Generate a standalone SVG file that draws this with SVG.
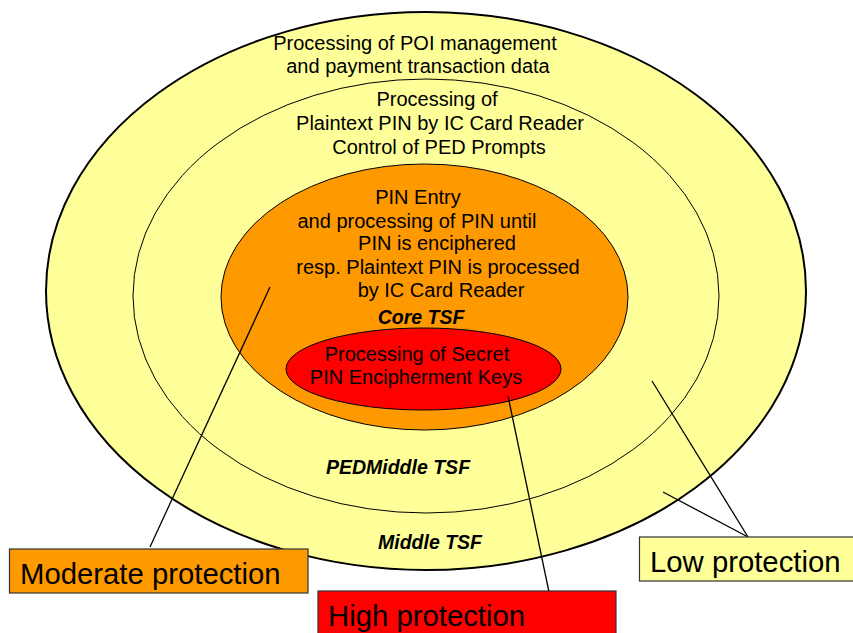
<svg xmlns="http://www.w3.org/2000/svg" width="853" height="633" viewBox="0 0 853 633">
  <style>
    text { font-family: "Liberation Sans", Arial, sans-serif; fill: #000; }
    .t { font-size: 20px; text-anchor: middle; }
    .tsf { font-size: 19.5px; font-weight: bold; font-style: italic; text-anchor: middle; }
    .lbl { font-size: 29.3px; }
    .lead { stroke: #000; stroke-width: 1.3; fill: none; }
    .box { stroke: #333; stroke-width: 1.2; }
  </style>
  <rect width="853" height="633" fill="#fff"/>

  <!-- Outer zone: Middle TSF -->
  <g id="middle-tsf">
    <ellipse cx="426" cy="291" rx="380" ry="279" fill="#FFFF99" stroke="#000" stroke-width="2"/>
    <text class="t" x="415" y="50">Processing of POI management</text>
    <text class="t" x="418" y="73">and payment transaction data</text>
    <text class="tsf" x="430" y="549">Middle TSF</text>
  </g>

  <!-- PED middle zone -->
  <g id="ped-middle-tsf">
    <ellipse cx="426" cy="296" rx="293" ry="217" fill="#FFFF99" stroke="#000" stroke-width="1"/>
    <text class="t" x="437" y="106">Processing of</text>
    <text class="t" x="440" y="130">Plaintext PIN by IC Card Reader</text>
    <text class="t" x="439" y="154">Control of PED Prompts</text>
    <text class="tsf" x="398" y="474">PEDMiddle TSF</text>
  </g>

  <!-- Core zone -->
  <g id="core-tsf">
    <ellipse cx="424.5" cy="297" rx="203.5" ry="133" fill="#FF9900" stroke="#000" stroke-width="1"/>
    <text class="t" x="418" y="204">PIN Entry</text>
    <text class="t" x="417" y="228">and processing of PIN until</text>
    <text class="t" x="437" y="250">PIN is enciphered</text>
    <text class="t" x="438" y="274">resp. Plaintext PIN is processed</text>
    <text class="t" x="441" y="297">by IC Card Reader</text>
    <text class="tsf" x="421" y="324">Core TSF</text>
  </g>

  <!-- Key processing zone -->
  <g id="secret-keys">
    <ellipse cx="423.5" cy="369" rx="137.5" ry="41" fill="#FF0000" stroke="#000" stroke-width="1"/>
    <text class="t" x="417" y="361">Processing of Secret</text>
    <text class="t" x="416" y="384">PIN Encipherment Keys</text>
  </g>

  <!-- Leader lines from the labels into the zones -->
  <g id="connectors">
    <line class="lead" x1="270" y1="287" x2="150" y2="547"/>
    <line class="lead" x1="508" y1="396" x2="549" y2="592"/>
    <line class="lead" x1="652" y1="381" x2="748" y2="537"/>
    <line class="lead" x1="663" y1="492" x2="748" y2="537"/>
  </g>

  <!-- Protection level labels -->
  <g id="label-moderate">
    <rect class="box" x="9.5" y="549" width="298.5" height="44" fill="#FF9900"/>
    <text class="lbl" x="20" y="584">Moderate protection</text>
  </g>
  <g id="label-high">
    <rect class="box" x="318" y="591" width="298" height="50" fill="#FF0000"/>
    <text class="lbl" x="328" y="626">High protection</text>
  </g>
  <g id="label-low">
    <rect class="box" x="639.5" y="537" width="220" height="44" fill="#FFFF99"/>
    <text class="lbl" x="650" y="572">Low protection</text>
  </g>
</svg>
